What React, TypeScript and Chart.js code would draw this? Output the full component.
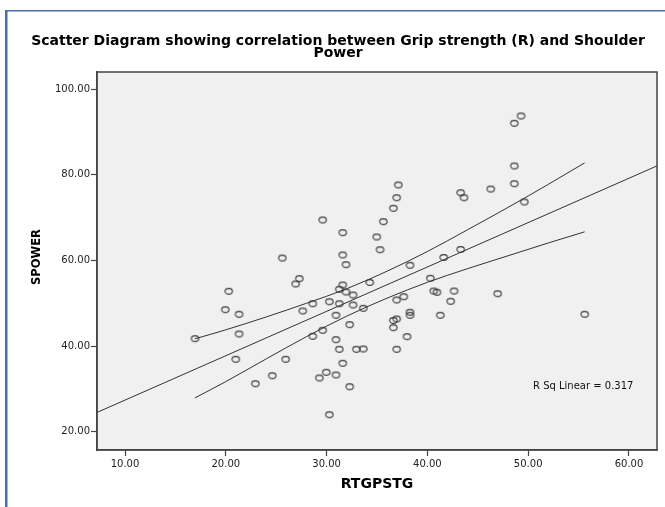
import React, { useEffect, useRef } from "react";
import { Chart, registerables } from "chart.js";
Chart.register(...registerables);

// ---- data ----
const rtgpstg = [
  37.11, 36.95, 36.62, 29.61, 35.63, 31.6, 34.97, 31.6, 35.3, 25.6,
  49.29, 48.62, 48.62, 48.62, 43.3, 43.63, 46.28, 49.61, 43.3, 41.62,
  31.92, 27.29, 26.93, 20.29, 31.6, 31.26, 34.28, 31.92, 32.62, 19.95,
  21.31, 28.62, 30.27, 27.63, 31.26, 32.62, 33.64, 36.95, 30.93, 16.94,
  21.31, 29.61, 28.62, 32.29, 36.62, 36.95, 36.62, 30.93, 31.26, 32.95,
  33.64, 36.95, 20.98, 25.94, 31.6, 24.61, 22.93, 29.97, 29.28, 30.93,
  32.29, 30.27, 38.27, 40.29, 37.65, 40.63, 40.95, 42.64, 42.31, 46.97,
  55.6, 38.27, 38.27, 41.28, 37.98,
];
const spower = [
  77.64, 74.67, 72.2, 69.46, 69.07, 66.5, 65.49, 61.29, 62.52, 60.58,
  93.76, 92.06, 82.08, 77.94, 75.84, 74.67, 76.7, 73.67, 62.57, 60.7,
  59.02, 55.75, 54.51, 52.8, 54.28, 53.27, 54.86, 52.64, 51.94, 48.5,
  47.43, 49.9, 50.37, 48.2, 49.9, 49.6, 48.83, 50.77, 47.2, 41.73,
  42.83, 43.69, 42.29, 45.0, 45.98, 46.33, 44.3, 41.5, 39.25, 39.25,
  39.32, 39.25, 36.92, 36.92, 35.98, 33.08, 31.21, 33.88, 32.55, 33.25,
  30.51, 23.97, 58.88, 55.84, 51.54, 52.87, 52.57, 52.87, 50.47, 52.24,
  47.43, 47.9, 47.2, 47.2, 42.2,
];

// fit line (across the plot) and 95% mean confidence band
const fitX = [7.22, 62.78];
const fitY = [24.5, 82.1];
const ciX = [16.94, 20, 24, 28, 32, 36, 40, 44, 48, 52, 55.6];
const ciUpper = [41.7, 43.8, 46.8, 50.0, 53.4, 57.5, 62.1, 67.2, 72.4, 77.8, 82.8];
const ciLower = [27.9, 31.7, 37.0, 42.2, 47.0, 51.2, 54.9, 58.1, 61.1, 64.1, 66.7];

const xTicks = [10, 20, 30, 40, 50, 60];
const yTicks = [20, 40, 60, 80, 100];
const xRange = [7.22, 62.78];
const yRange = [15.72, 104.04];

const titleLines = [
  "Scatter Diagram showing correlation between Grip strength (R) and Shoulder",
  "Power",
];
const xTitle = "RTGPSTG";
const yTitle = "SPOWER";
const rSqLabel = "R Sq Linear = 0.317";

const FONT = "'DejaVu Sans', Arial, sans-serif";

export default function App() {
  const ref = useRef<HTMLCanvasElement | null>(null);

  useEffect(() => {
    if (!ref.current) return;

    const pt = document.createElement("canvas");
    pt.width = 11;
    pt.height = 9;
    const pc = pt.getContext("2d")!;
    pc.strokeStyle = "#383838";
    pc.lineWidth = 1.1;
    pc.beginPath();
    pc.ellipse(5.5, 4.5, 3.7, 2.9, 0, 0, Math.PI * 2);
    pc.stroke();

    const deco = {
      id: "deco",
      beforeDraw(chart: any) {
        const { ctx, chartArea: a } = chart;
        ctx.save();
        ctx.fillStyle = "#ffffff";
        ctx.fillRect(0, 0, chart.width, chart.height);
        ctx.fillStyle = "#f0f0f0";
        ctx.fillRect(a.left, a.top, a.right - a.left, a.bottom - a.top);
        ctx.fillStyle = "#4a6fa3";
        ctx.fillRect(5, 10, 2.5, chart.height - 10);
        ctx.fillRect(5, 10, chart.width - 5, 1.5);
        ctx.restore();
      },
      afterDraw(chart: any) {
        const { ctx, chartArea: a } = chart;
        ctx.save();
        ctx.strokeStyle = "#444";
        ctx.lineWidth = 1.5;
        ctx.strokeRect(a.left, a.top, a.right - a.left, a.bottom - a.top);

        ctx.fillStyle = "#000";
        ctx.textAlign = "center";
        ctx.textBaseline = "middle";
        ctx.font = `bold 14px ${FONT}`;
        ctx.fillText(titleLines[0], 338, 41);
        ctx.fillText(titleLines[1], 338, 53.5);

        ctx.font = `bold 14px ${FONT}`;
        ctx.fillText(xTitle, (a.left + a.right) / 2, 484);
        ctx.save();
        ctx.translate(37, 257);
        ctx.rotate(-Math.PI / 2);
        ctx.font = `bold 11.5px ${FONT}`;
        ctx.fillText(yTitle, 0, 0);
        ctx.restore();

        ctx.font = `10px ${FONT}`;
        ctx.fillStyle = "#111";
        ctx.textAlign = "left";
        ctx.fillText(rSqLabel, 533, 386);
        ctx.restore();
      },
    };

    const lineDs = (xs: number[], ys: number[], curved: boolean) => ({
      data: xs.map((x, i) => ({ x, y: ys[i] })),
      showLine: true,
      borderColor: "#333",
      borderWidth: 1,
      pointRadius: 0,
      tension: curved ? 0.4 : 0,
      cubicInterpolationMode: curved ? "monotone" : "default",
    });

    const chart = new Chart(ref.current, {
      type: "scatter",
      data: {
        datasets: [
          {
            data: rtgpstg.map((x, i) => ({ x, y: spower[i] })),
            pointStyle: pt as any,
            pointRadius: 4,
          } as any,
          lineDs(fitX, fitY, false) as any,
          lineDs(ciX, ciUpper, true) as any,
          lineDs(ciX, ciLower, true) as any,
        ],
      },
      options: {
        responsive: false,
        animation: false,
        devicePixelRatio: 1,
        layout: { padding: { left: 0, right: 8, top: 72, bottom: 0 } },
        plugins: {
          legend: { display: false },
          tooltip: { enabled: false },
          title: { display: false },
        },
        scales: {
          x: {
            type: "linear",
            min: xRange[0],
            max: xRange[1],
            afterBuildTicks: (s: any) => {
              s.ticks = xTicks.map((v) => ({ value: v }));
            },
            afterFit: (s: any) => {
              s.height = 57;
            },
            ticks: {
              callback: (v: any) => Number(v).toFixed(2),
              font: { family: FONT, size: 10 },
              color: "#222",
              padding: 2,
              maxRotation: 0,
              autoSkip: false,
            },
            grid: {
              drawOnChartArea: false,
              drawTicks: true,
              tickLength: 6,
              tickColor: "#444",
              tickWidth: 1.2,
            },
            border: { display: true, color: "#444", width: 1.5 },
          },
          y: {
            type: "linear",
            min: yRange[0],
            max: yRange[1],
            afterBuildTicks: (s: any) => {
              s.ticks = yTicks.map((v) => ({ value: v }));
            },
            afterFit: (s: any) => {
              s.width = 97;
            },
            ticks: {
              callback: (v: any) => Number(v).toFixed(2),
              font: { family: FONT, size: 10 },
              color: "#222",
              padding: 1,
              autoSkip: false,
            },
            grid: {
              drawOnChartArea: false,
              drawTicks: true,
              tickLength: 6,
              tickColor: "#444",
              tickWidth: 1.2,
            },
            border: { display: true, color: "#444", width: 1.5 },
          },
        },
      },
      plugins: [deco as any],
    });

    return () => chart.destroy();
  }, []);

  return (
    <div style={{ position: "fixed", left: 0, top: 0, width: 665, height: 507 }}>
      <canvas ref={ref} width={665} height={507} style={{ display: "block" }} />
    </div>
  );
}
